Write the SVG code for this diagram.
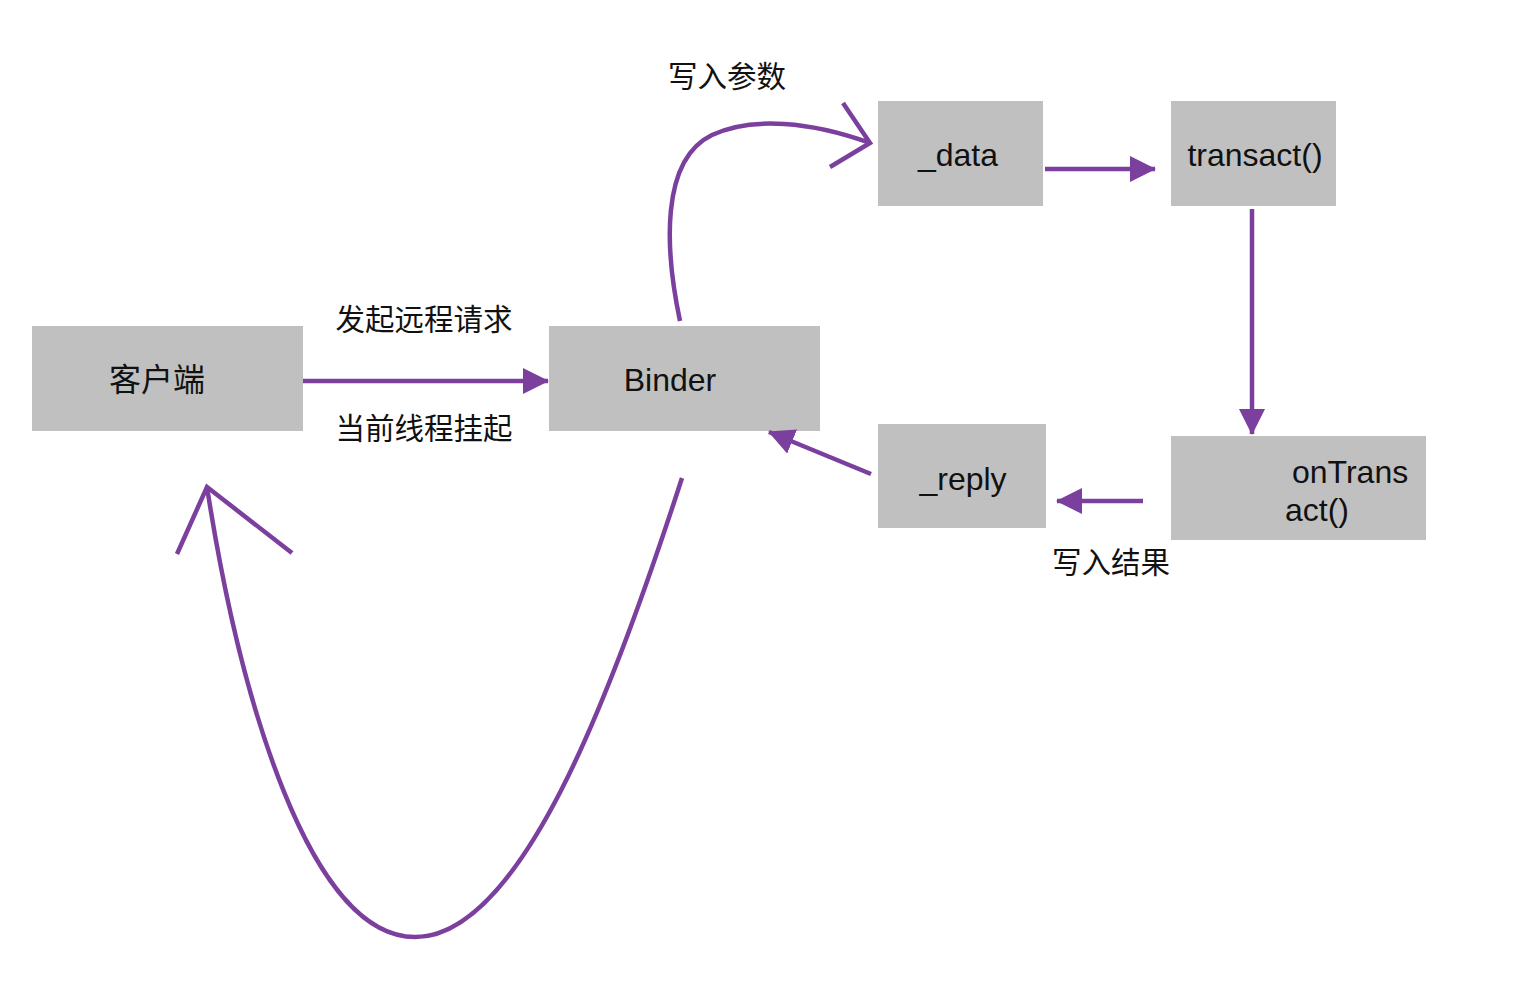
<svg xmlns="http://www.w3.org/2000/svg" width="1516" height="1008" viewBox="0 0 1516 1008">
<style>
.box{fill:#c0c0c0}
.t{font-family:"Liberation Sans","Noto Sans CJK SC",sans-serif;font-size:32px;fill:#111}
.lb{font-family:"Liberation Sans","Noto Sans CJK SC",sans-serif;font-size:29.5px;fill:#111}
.c{fill:none;stroke:#7b3f9e;stroke-width:4.5;stroke-linecap:butt}
</style>
<defs>
<marker id="ah" markerUnits="userSpaceOnUse" markerWidth="26" markerHeight="28" refX="25" refY="13" orient="auto">
<path d="M0,0 L26,13 L0,26 Z" fill="#7b3f9e"/>
</marker>
</defs>
<rect width="1516" height="1008" fill="#fff"/>
<g id="client"><rect class="box" x="32" y="326" width="271" height="105"/><text class="t" x="157" y="391" text-anchor="middle">客户端</text></g>
<g id="binder"><rect class="box" x="549" y="326" width="271" height="105"/><text class="t" x="670" y="391" text-anchor="middle">Binder</text></g>
<g id="data"><rect class="box" x="878" y="101" width="165" height="105"/><text class="t" x="958" y="166" text-anchor="middle">_data</text></g>
<g id="transact"><rect class="box" x="1171" y="101" width="165" height="105"/><text class="t" x="1255" y="166" text-anchor="middle">transact()</text></g>
<g id="reply"><rect class="box" x="878" y="424" width="168" height="104"/><text class="t" x="963" y="490" text-anchor="middle">_reply</text></g>
<g id="ontransact"><rect class="box" x="1171" y="436" width="255" height="104"/><text class="t" x="1292" y="483">onTrans</text><text class="t" x="1285" y="521">act()</text></g>
<g id="connectors">
<line class="c" x1="303" y1="381" x2="548" y2="381" marker-end="url(#ah)"/>
<line class="c" x1="1045" y1="169" x2="1155" y2="169" marker-end="url(#ah)"/>
<line class="c" x1="1252" y1="209" x2="1252" y2="434" marker-end="url(#ah)"/>
<line class="c" x1="1143" y1="501" x2="1057" y2="501" marker-end="url(#ah)"/>
<line class="c" x1="871" y1="474" x2="769" y2="432" marker-end="url(#ah)"/>
<path class="c" d="M680,321 C665,250 660,160 712,135 C752,116 812,122 870,143"/>
<path class="c" d="M843,103 L870,143 L830,167"/>
<path class="c" d="M682,478 C610,700 520,937 415,937 C310,937 240,700 207,487"/>
<path class="c" d="M177,554 L207,487 L292,553"/>
</g>
<g id="labels">
<text class="lb" x="727" y="87" text-anchor="middle">写入参数</text>
<text class="lb" x="424" y="330" text-anchor="middle">发起远程请求</text>
<text class="lb" x="424" y="439" text-anchor="middle">当前线程挂起</text>
<text class="lb" x="1111" y="573" text-anchor="middle">写入结果</text>
</g>
</svg>
